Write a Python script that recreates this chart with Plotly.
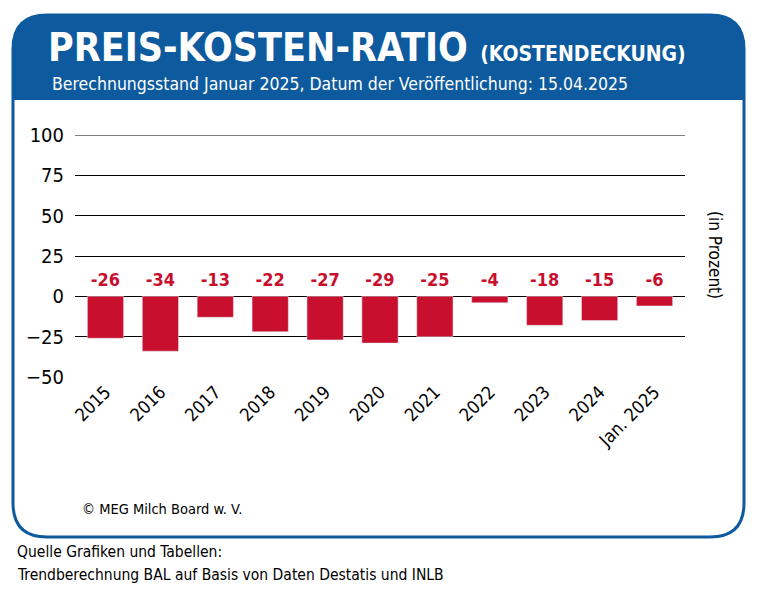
import plotly.graph_objects as go

years = ["2015", "2016", "2017", "2018", "2019", "2020", "2021", "2022", "2023", "2024", "Jan. 2025"]
ratio = [-26, -34, -13, -22, -27, -29, -25, -4, -18, -15, -6]
yticks = [-50, -25, 0, 25, 50, 75, 100]

W, H = 758, 600
OFF = 8  # page body margin
BLUE = "#0d5a9e"
RED = "#c8102e"
FONT = "DejaVu Sans Condensed, DejaVu Sans"


def px(x, y):
    return (x - OFF) / W, 1 - (y - OFF) / H


def rounded(x0, y0, x1, y1, r, bottom_round=True):
    pts = []
    a = px(x0, y0 + r); pts.append("M %f %f" % a)
    c = px(x0, y0); e = px(x0 + r, y0); pts.append("Q %f %f %f %f" % (*c, *e))
    e = px(x1 - r, y0); pts.append("L %f %f" % e)
    c = px(x1, y0); e = px(x1, y0 + r); pts.append("Q %f %f %f %f" % (*c, *e))
    if bottom_round:
        e = px(x1, y1 - r); pts.append("L %f %f" % e)
        c = px(x1, y1); e = px(x1 - r, y1); pts.append("Q %f %f %f %f" % (*c, *e))
        e = px(x0 + r, y1); pts.append("L %f %f" % e)
        c = px(x0, y1); e = px(x0, y1 - r); pts.append("Q %f %f %f %f" % (*c, *e))
    else:
        pts.append("L %f %f" % px(x1, y1))
        pts.append("L %f %f" % px(x0, y1))
    return " ".join(pts) + " Z"


fig = go.Figure()
fig.add_bar(x=years, y=ratio, marker_color=RED, width=0.66)
fig.add_scatter(x=years, y=[9.5] * len(years), mode="text",
                text=["<b>%d</b>" % v for v in ratio],
                textfont=dict(color=RED, size=18, family=FONT))

shapes = [
    dict(type="path", xref="paper", yref="paper", path=rounded(13, 15, 744, 100, 34, False),
         fillcolor=BLUE, line=dict(width=0), layer="below"),
    dict(type="path", xref="paper", yref="paper", path=rounded(13, 15, 744, 537, 34),
         line=dict(color=BLUE, width=3)),
    dict(type="line", xref="paper", yref="y", x0=px(75, 0)[0], x1=px(685, 0)[0], y0=100, y1=100,
         line=dict(color="black", width=1.2)),
]

ann = []
def text(x, y, s, size, color="black", anchor="left", angle=0, bold=False):
    xx, yy = px(x, y)
    ann.append(dict(x=xx, y=yy, xref="paper", yref="paper", text=("<b>%s</b>" % s) if bold else s,
                    showarrow=False, xanchor=anchor, yanchor="middle", textangle=angle,
                    font=dict(size=size, color=color, family=FONT)))

text(46, 48, "PREIS-KOSTEN-RATIO <span style='font-size:21px'>(KOSTENDECKUNG)</span>", 39, "white", bold=True)
text(50, 84, "Berechnungsstand Januar 2025, Datum der Veröffentlichung: 15.04.2025", 17.5, "white")
text(715, 255, "(in Prozent)", 17, angle=90, anchor="center")
text(80, 509, "© MEG Milch Board w. V.", 14.5)
text(15, 552, "Quelle Grafiken und Tabellen:", 15.5)
text(15, 575, "Trendberechnung BAL auf Basis von Daten Destatis und INLB", 15.5)

x0, _ = px(75, 0)
x1, _ = px(685, 0)
_, ytop = px(0, 135)
_, ybot = px(0, 377)
fig.update_layout(
    width=W, height=H, margin=dict(l=0, r=0, t=0, b=0),
    paper_bgcolor="white", plot_bgcolor="white", showlegend=False,
    shapes=shapes, annotations=ann, bargap=0.3,
    xaxis=dict(domain=[x0, x1], tickangle=-45, tickfont=dict(size=18, family=FONT, color="black"),
               showgrid=False, automargin=False, ticks=""),
    yaxis=dict(domain=[ybot, ytop], range=[-50, 100], tickvals=yticks,
               tickfont=dict(size=20, family=FONT, color="black"), gridcolor="black", gridwidth=1.2,
               zeroline=True, zerolinecolor="black", zerolinewidth=1.2, automargin=False, ticklen=6,
               ticks="outside", tickcolor="rgba(0,0,0,0)"),
)
fig.write_html("out.html")
